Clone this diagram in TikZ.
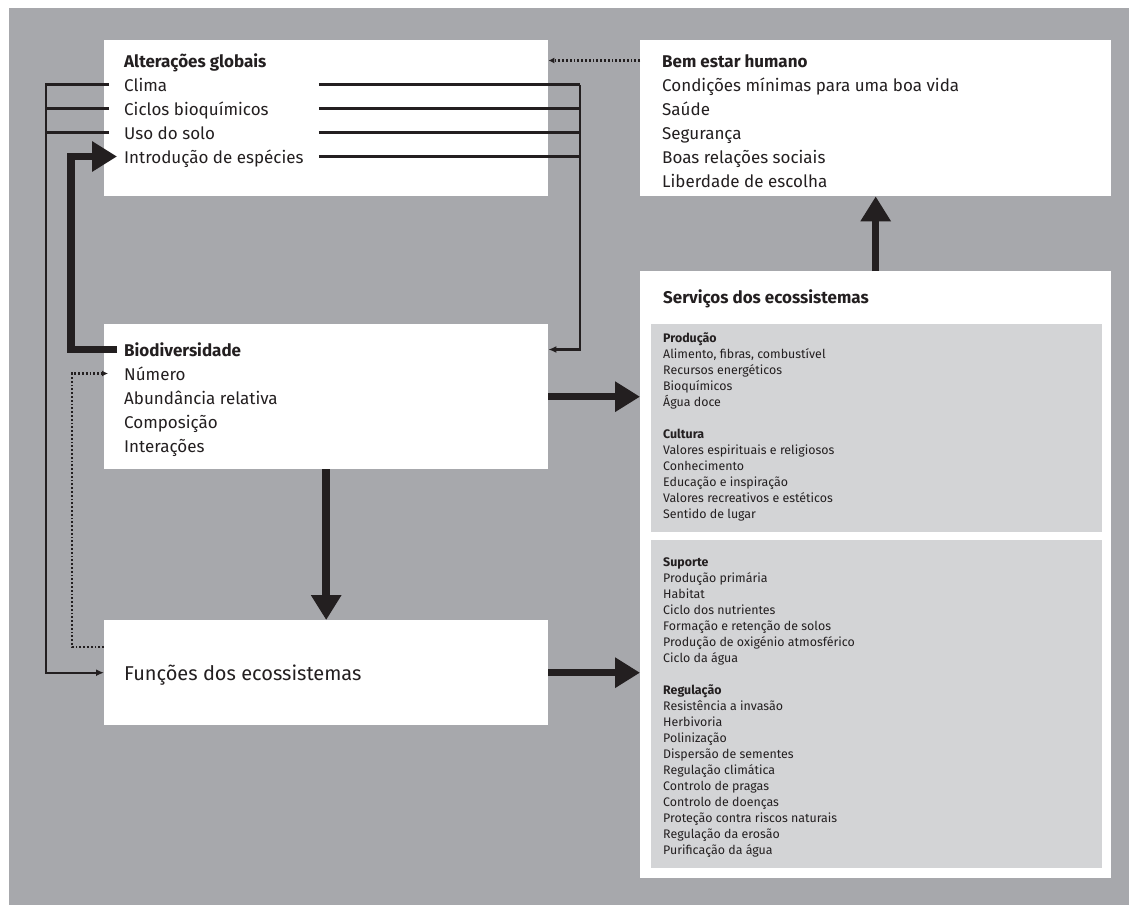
\documentclass[tikz,border=0pt]{standalone}
\usepackage{fontspec}
\setmainfont{Fira Sans}
\usetikzlibrary{arrows.meta, calc, positioning}
\definecolor{fundo}{HTML}{A7A8AC}
\definecolor{painel}{HTML}{D3D4D6}
\definecolor{tinta}{HTML}{231F20}
\tikzset{
  caixa/.style={fill=white, inner sep=0pt, anchor=north west},
  linha/.style={anchor=base west, inner sep=0pt, text height=13pt, text depth=0pt, text=tinta, font=\fontsize{17}{20}\selectfont},
  titulo/.style={linha, font=\fontsize{17}{20}\selectfont\bfseries},
  lista/.style={anchor=north west, inner sep=0pt, align=left, text=tinta, font=\fontsize{12.4}{16}\selectfont},
  fio/.style={draw=tinta, line width=2.2pt},
  ponto/.style={draw=tinta, line width=2.4pt, dash pattern=on 1.8pt off 2pt},
  seta/.style={-{Latex[length=8pt,width=7pt]}},
  grosso/.style={draw=tinta, line width=7.5pt, -{Triangle[length=25pt,width=29pt]}}
}

\begin{document}
\begin{tikzpicture}[x=1pt,y=-1pt]
\useasboundingbox (0,0) rectangle (1129,905);
\fill[fundo] (9,8) rectangle (1129,905);

% caixas
\node[caixa, minimum width=444pt, minimum height=156pt] (alteracoes) at (104,40) {};
\node[caixa, minimum width=471pt, minimum height=156pt] (bemestar) at (640,40) {};
\node[caixa, minimum width=444pt, minimum height=145pt] (biodiv) at (104,324) {};
\node[caixa, minimum width=444pt, minimum height=105pt] (funcoes) at (104,620) {};
\node[caixa, minimum width=471pt, minimum height=607pt] (servicos) at (640,271) {};
\node[caixa, fill=painel, minimum width=451pt, minimum height=208pt] (painelA) at (651,324) {};
\node[caixa, fill=painel, minimum width=451pt, minimum height=328pt] (painelB) at (651,540) {};

% textos
\node[titulo] (alt) at (124,67) {Alterações globais};
\node[linha] (clima) at (124,91) {Clima};
\node[linha] (ciclos) at (124,115) {Ciclos bioquímicos};
\node[linha] (solo) at (124,139) {Uso do solo};
\node[linha] (intro) at (124,163) {Introdução de espécies};

\node[titulo] (bem) at (662,67) {Bem estar humano};
\node[linha] (cond) at (662,91) {Condições mínimas para uma boa vida};
\node[linha] (saude) at (662,115) {Saúde};
\node[linha] (seg) at (662,139) {Segurança};
\node[linha] (boas) at (662,163) {Boas relações sociais};
\node[linha] (lib) at (662,187) {Liberdade de escolha};

\node[titulo] (bio) at (124,356) {Biodiversidade};
\node[linha] (num) at (124,380) {Número};
\node[linha] (abund) at (124,404) {Abundância relativa};
\node[linha] (comp) at (124,428) {Composição};
\node[linha] (inter) at (124,452) {Interações};

\node[linha, font=\fontsize{20}{24}\selectfont] (func) at (124,680) {Funções dos ecossistemas};

\node[titulo, font=\fontsize{17}{20}\selectfont\bfseries] (serv) at (663,303) {Serviços dos ecossistemas};
\node[lista] (prod) at (663,330.8) {\strut\textbf{Produção}\\
  Alimento, fibras, combustível\\ Recursos energéticos\\ Bioquímicos\\ Água doce\\[16pt]
  \textbf{Cultura}\\ Valores espirituais e religiosos\\ Conhecimento\\
  Educação e inspiração\\ Valores recreativos e estéticos\\ Sentido de lugar};
\node[lista] (sup) at (663,554.8) {\strut\textbf{Suporte}\\
  Produção primária\\ Habitat\\ Ciclo dos nutrientes\\ Formação e retenção de solos\\
  Produção de oxigénio atmosférico\\ Ciclo da água\\[16pt]
  \textbf{Regulação}\\ Resistência a invasão\\ Herbivoria\\ Polinização\\
  Dispersão de sementes\\ Regulação climática\\ Controlo de pragas\\
  Controlo de doenças\\ Proteção contra riscos naturais\\ Regulação da erosão\\
  Purificação da água};

% ligacoes finas
\coordinate (esq) at (46,85);
\coordinate (dir) at (580,85);
\draw[fio, seta] ([xshift=-15pt]clima.west) -- (clima.west -| esq) |- (funcoes.west);
\draw[fio] ([xshift=-15pt]ciclos.west) -- (ciclos.west -| esq);
\draw[fio] ([xshift=-15pt]solo.west) -- (solo.west -| esq);
\foreach \n in {clima,ciclos,solo,intro}
  \draw[fio] (\n.west -| intro.east) ++(15,0) -- (\n.west -| dir);
\draw[fio, seta] (clima.west -| dir) |- (bio.west -| biodiv.east);

% pontilhados
\coordinate (pont) at (72,647);
\draw[ponto, -{Latex[length=6pt,width=6pt]}] (bemestar.west |- alt.west) -- (alteracoes.east |- alt.west);
\draw[ponto, -{Latex[length=6pt,width=6pt]}] (funcoes.west |- pont) -- (pont) |- ([xshift=-16pt]num.west);

% setas grossas
\coordinate (dobra) at (71,0);
\draw[grosso] ([xshift=-7pt]bio.west) -| (intro.west -| dobra) -- ([xshift=-7pt]intro.west);
\draw[grosso] (biodiv.south) -- (funcoes.north);
\draw[grosso] (biodiv.east) -- (biodiv.east -| servicos.west);
\draw[grosso] (funcoes.east) -- (funcoes.east -| servicos.west);
\draw[grosso] (bemestar.south |- servicos.north) -- (bemestar.south);
\end{tikzpicture}
\end{document}
